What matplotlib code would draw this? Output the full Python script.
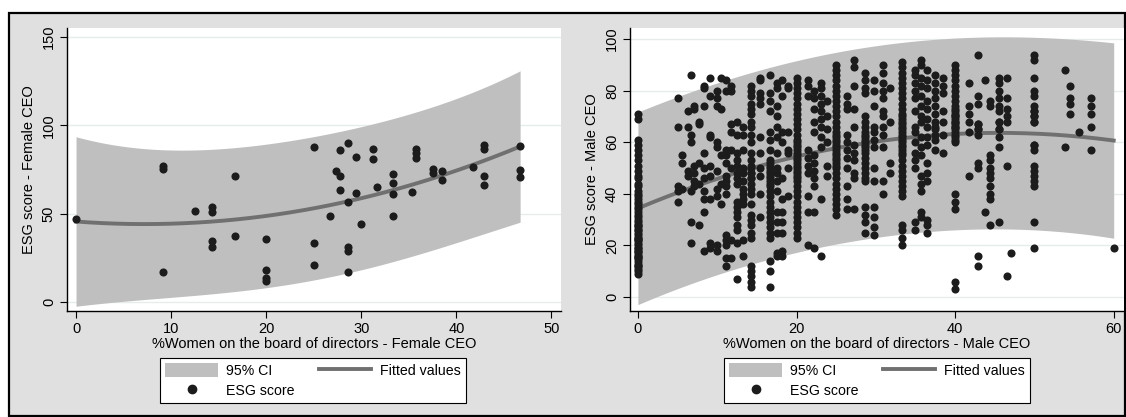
import numpy as np
import matplotlib
matplotlib.use('Agg')
import matplotlib.pyplot as plt
from matplotlib.patches import Rectangle, Patch
from matplotlib.lines import Line2D

plt.rcParams['font.family'] = ['Liberation Sans', 'DejaVu Sans']

# Female CEO panel: %women on board vs ESG score
female_x = [0, 9.1, 9.1, 9.1, 12.5, 14.3, 14.3, 14.3, 14.3, 16.7, 16.7,
            20, 20, 20, 20, 25, 25, 25, 26.7, 27.3, 27.8, 27.8, 27.8,
            28.6, 28.6, 28.6, 28.6, 28.6, 29.4, 29.4, 30, 31.2, 31.2, 31.6,
            33.3, 33.3, 33.3, 33.3, 35.3, 35.7, 35.7, 35.7, 37.5, 37.5,
            38.5, 38.5, 41.7, 42.9, 42.9, 42.9, 42.9, 46.7, 46.7, 46.7]
female_y = [47.2, 76.9, 75.5, 16.7, 51.5, 54, 51, 34.3, 31.4, 71.2, 37.5,
            35.6, 18.2, 13.5, 11.8, 87.9, 33.3, 21, 48.9, 74, 71.6, 86, 63.2,
            90.2, 56.6, 31.4, 28.6, 17.2, 82.2, 61.7, 43.9, 86.7, 81.2, 65.2,
            72.2, 67.4, 61.4, 48.9, 62.1, 86.7, 84.5, 81.6, 75.4, 73.1,
            74.4, 68.8, 76.3, 88.6, 86.7, 71.6, 66.3, 88.2, 75, 70.9]

# Male CEO panel, stacked by board share: (x, [ESG scores])
# dense stacks also carry the overplotted firms hidden inside them
male_low = [
    (0.0, [71, 69, 61, 59, 57, 55, 53, 51, 49, 47, 46, 44, 43, 41, 40, 38, 37,
           35, 34, 32, 31, 29, 28, 26, 25, 23, 22, 21, 19, 18, 17, 16, 15, 13,
           12, 11, 9, 30, 28, 26, 24, 22, 20, 18, 16, 14, 12, 10, 33, 36, 39,
           27, 23, 19, 15]),
    (5.0, [77, 66, 43, 41, 37]),
    (5.6, [55, 52, 42]),
    (6.3, [72, 66, 49, 47]),
    (6.7, [86, 63, 60, 41, 29, 21]),
    (7.1, [74, 73, 51, 48, 45, 43]),
    (7.7, [68, 67, 52, 44, 28]),
    (8.3, [82, 81, 74, 56, 50, 46, 41, 38, 33, 18]),
    (9.1, [85, 78, 63, 62, 51, 47, 38, 21, 19]),
    (10.0, [80, 77, 74, 60, 58, 49, 42, 39, 20, 18]),
]
male_mid = [
    (10.5, [85, 73, 55, 44, 36]),
    (11.1, [84, 80, 57, 55, 52, 47, 45, 43, 40, 24, 22, 20, 15, 12]),
    (11.8, [82, 80, 67, 64, 57, 50, 22, 15]),
    (12.5, [68, 63, 56, 53, 51, 48, 46, 44, 37, 35, 33, 31, 28, 26, 21, 7]),
    (13.3, [66, 63, 57, 50, 48, 45, 42, 40, 38, 36, 22, 16]),
    (14.3, [82, 80, 78, 75, 73, 71, 68, 66, 63, 60, 56, 53, 51, 48, 46, 42,
            40, 36, 32, 30, 28, 25, 23, 12, 10, 8, 6, 4, 50, 48, 46, 44]),
    (15.4, [85, 84, 79, 77, 75, 62, 56, 50, 47, 40, 31]),
    (16.7, [86, 79, 76, 72, 64, 61, 57, 53, 51, 49, 47, 45, 43, 41, 39, 37,
            35, 33, 31, 29, 27, 25, 23, 14, 10, 4, 52, 50, 48, 46, 44]),
    (17.6, [83, 81, 74, 70, 66, 62, 56, 50, 48, 45, 41, 33, 29, 25, 17, 16]),
    (18.2, [84, 78, 64, 60, 46, 38, 33, 29, 25, 18, 16]),
    (18.9, [82, 81, 64, 57, 56, 50, 39]),
    (20.0, [85, 83, 81, 79, 77, 75, 73, 71, 69, 67, 65, 63, 61, 59, 57, 55,
            53, 51, 49, 47, 45, 43, 41, 39, 37, 35, 33, 31, 29, 27, 25, 23,
            50, 52, 54, 56, 58, 60, 48, 46]),
    (21.4, [84, 82, 78, 57, 54, 51, 48, 39, 33, 20]),
    (22.2, [80, 77, 73, 68, 64, 55, 52, 49, 46, 43, 33, 19]),
    (23.1, [83, 81, 78, 75, 72, 69, 66, 62, 58, 38, 16]),
    (23.8, [76, 70, 65, 60, 51, 47]),
    (25.0, [90, 88, 86, 84, 82, 80, 78, 76, 74, 72, 70, 68, 66, 64, 62, 60,
            58, 56, 54, 52, 50, 48, 46, 44, 42, 40, 38, 36, 34, 32,
            55, 57, 59, 61, 63, 53, 51]),
    (26.4, [78, 75, 73, 63, 60, 57, 54, 50, 43, 38, 34]),
    (27.3, [92, 89, 82, 73, 66, 59, 56, 53, 48, 46, 34]),
    (28.6, [87, 84, 81, 79, 70, 68, 66, 64, 62, 60, 58, 56, 54, 52, 50, 48,
            46, 45, 35, 32, 29, 25, 57, 59, 61, 63]),
    (29.8, [84, 80, 74, 66, 64, 61, 58, 50, 45, 35, 31, 27, 24]),
]
male_high = [
    (30.9, [90, 87, 83, 80, 77, 72, 70, 66, 63, 58, 45, 40]),
    (31.8, [81, 68, 52, 48]),
    (33.3, [91, 89, 87, 85, 83, 81, 79, 77, 75, 73, 71, 69, 67, 65, 63, 61,
            59, 57, 55, 53, 51, 49, 47, 45, 43, 41, 39, 28, 26, 23, 20,
            60, 62, 64, 66, 68, 70, 58, 56]),
    (35.0, [88, 86, 83, 80, 77, 72, 66, 64, 60, 56, 53, 50, 29, 26]),
    (35.7, [92, 90, 85, 82, 78, 74, 70, 68, 62, 58, 55, 47, 44, 41, 33, 31]),
    (36.5, [88, 84, 81, 76, 73, 69, 66, 62, 59, 52, 48, 45, 30, 28, 25]),
    (37.5, [86, 83, 80, 77, 74, 71, 68, 65, 61, 57, 63, 66]),
    (38.5, [85, 82, 79, 72, 68, 63, 56]),
    (40.0, [90, 88, 86, 84, 82, 80, 78, 76, 74, 72, 70, 68, 66, 64, 62, 60,
            40, 37, 34, 6, 3, 61, 63, 65, 67, 69, 71, 73, 66, 68, 70]),
    (41.7, [83, 74, 71, 68, 64, 47]),
    (42.9, [94, 78, 75, 67, 65, 63, 52, 50, 16, 12, 65, 67]),
    (43.8, [84, 33]),
    (44.4, [76, 74, 55, 53, 50, 48, 46, 43, 40, 38, 28]),
    (45.5, [85, 83, 80, 77, 74, 72, 68, 65, 62, 58, 29, 68, 65]),
    (46.6, [85, 77, 73, 70, 68, 51, 8]),
    (47.1, [17]),
    (50.0, [94, 92, 85, 80, 78, 74, 72, 70, 68, 59, 57, 51, 49, 47, 45, 43,
            29, 19, 68, 70, 72, 59]),
    (53.8, [88, 58]),
    (54.5, [82, 77, 75, 71]),
    (55.6, [64]),
    (57.1, [77, 74, 71, 66, 57]),
    (60.0, [19]),
]

BG = '#e0e0e0'
CI_COL = '#bfbfbf'
FIT_COL = '#707070'
DOT_COL = '#1c1c1c'
W, H = 1126, 417


def qfit_ci(x, y, t=1.96):
    # quadratic fit with 95% prediction band (like Stata qfitci, stdf)
    x = np.asarray(x, float)
    y = np.asarray(y, float)
    X = np.column_stack([np.ones_like(x), x, x ** 2])
    beta, *_ = np.linalg.lstsq(X, y, rcond=None)
    resid = y - X @ beta
    s2 = resid @ resid / (len(x) - 3)
    xx = np.linspace(x.min(), x.max(), 200)
    Xg = np.column_stack([np.ones_like(xx), xx, xx ** 2])
    cov = np.linalg.inv(X.T @ X)
    se = np.sqrt(s2 * (1 + np.einsum('ij,jk,ik->i', Xg, cov, Xg)))
    fit = Xg @ beta
    return xx, fit, fit - t * se, fit + t * se


def px_axes(fig, x0, y0, x1, y1):
    return fig.add_axes([x0 / W, 1 - y1 / H, (x1 - x0) / W, (y1 - y0) / H])


def panel(ax, x, y, t, xlim, ylim, yticks, xticks, xlabel, ylabel):
    xx, fit, lo, hi = qfit_ci(x, y, t)
    ax.fill_between(xx, lo, hi, color=CI_COL, lw=0, zorder=1, label='95% CI')
    ax.scatter(x, y, s=34, color=DOT_COL, lw=0, zorder=3, label='ESG score')
    ax.plot(xx, fit, color=FIT_COL, lw=2.8, zorder=2, label='Fitted values')
    ax.set_xlim(*xlim)
    ax.set_ylim(*ylim)
    ax.set_yticks(yticks)
    ax.set_xticks(xticks)
    ax.yaxis.grid(True, color='#e6ebeb', lw=1)
    ax.set_axisbelow(True)
    for s in ['top', 'right']:
        ax.spines[s].set_visible(False)
    for s in ['left', 'bottom']:
        ax.spines[s].set_linewidth(1.0)
    ax.tick_params(length=5, width=0.8, labelsize=10.5, pad=3)
    plt.setp(ax.get_yticklabels(), rotation=90, va='center')
    ax.set_xlabel(xlabel, fontsize=10.5, labelpad=1)
    ax.set_ylabel(ylabel, fontsize=10.5, labelpad=4)


fig = plt.figure(figsize=(W / 100, H / 100), dpi=100)
fig.patches.append(Rectangle((9 / W, 1 / H), 1116 / W, 403 / H,
                             transform=fig.transFigure, facecolor=BG,
                             edgecolor='black', lw=1.6, zorder=-5))

ax1 = px_axes(fig, 67, 28, 561, 311)
panel(ax1, female_x, female_y, 2.01, (-0.95, 51.0), (-5.1, 155.1),
      [0, 50, 100, 150], [0, 10, 20, 30, 40, 50],
      '%Women on the board of directors - Female CEO', 'ESG score - Female CEO')

male_x, male_y = [], []
for group in (male_low, male_mid, male_high):
    for xv, ys in group:
        male_x += [xv] * len(ys)
        male_y += ys

ax2 = px_axes(fig, 630, 28, 1124, 311)
panel(ax2, male_x, male_y, 1.96, (-1.0, 61.3), (-5.4, 104.3),
      [0, 20, 40, 60, 80, 100], [0, 20, 40, 60],
      '%Women on the board of directors - Male CEO', 'ESG score - Male CEO')

handles = [Patch(facecolor=CI_COL, edgecolor='none'),
           Line2D([], [], ls='none', marker='o', ms=6, color=DOT_COL),
           Line2D([], [], color=FIT_COL, lw=2.8)]
labels = ['95% CI', 'ESG score', 'Fitted values']
for ax, cx in ((ax1, 313), (ax2, 877)):
    leg = fig.legend(handles, labels, ncol=2, loc='center',
                     bbox_to_anchor=(cx / W, 1 - 380.5 / H), fontsize=10.2,
                     frameon=True, fancybox=False, edgecolor='black',
                     framealpha=1, handlelength=3.7, handleheight=1.1,
                     columnspacing=1.7, labelspacing=0.35, borderpad=0.4,
                     handletextpad=0.6)
    leg.get_frame().set_linewidth(0.8)

fig.savefig('out.png', dpi=100)
